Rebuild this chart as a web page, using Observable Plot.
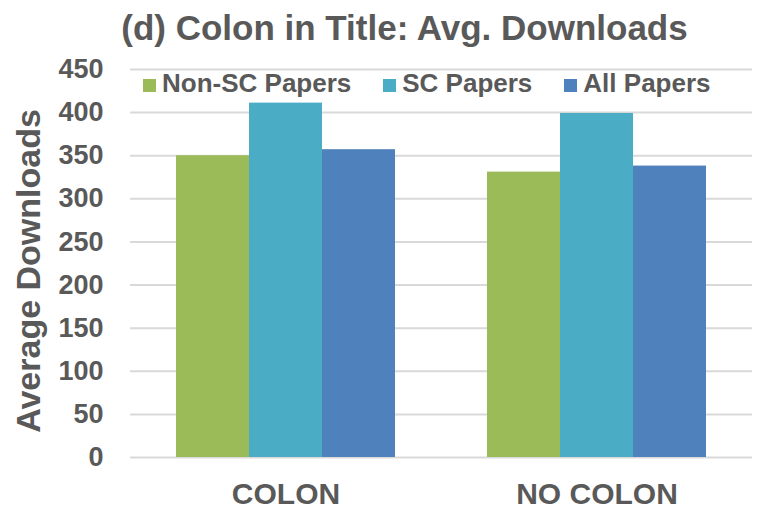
<!DOCTYPE html>
<html>
<head>
<meta charset="utf-8">
<script src="https://cdn.jsdelivr.net/npm/d3@7"></script>
<script src="https://cdn.jsdelivr.net/npm/@observablehq/plot@0.6"></script>
<style>
  html, body { margin: 0; padding: 0; background: #fff; }
  #wrap { position: relative; width: 765px; height: 518px; overflow: hidden;
          font-family: "Liberation Sans", Arial, sans-serif; font-weight: bold; color: #595959; }
  #title { position: absolute; left: 22px; width: 765px; top: 10px; text-align: center;
           font-size: 35px; line-height: 35px; white-space: nowrap; }
  #ylabel { position: absolute; left: 28px; top: 271px; font-size: 34px; line-height: 34px;
            white-space: nowrap; transform: translate(-50%, -50%) rotate(-90deg); }
  #legend { position: absolute; left: 143px; top: 70px; display: flex; align-items: center;
            font-size: 26px; line-height: 26px; white-space: nowrap; }
  .item { display: flex; align-items: center; margin-right: 32px; }
  .sw { width: 13px; height: 13px; margin-right: 6px; position: relative; top: 2px; }
  #chart { position: absolute; left: 0; top: 50px; }
</style>
</head>
<body>
<div id="wrap">
  <div id="chart"></div>
  <div id="title"></div>
  <div id="ylabel"></div>
  <div id="legend"></div>
</div>
<script>
const titleText = "(d) Colon in Title: Avg. Downloads";
const yLabel = "Average Downloads";
const groups = ["COLON", "NO COLON"];
const series = ["Non-SC Papers", "SC Papers", "All Papers"];
const colonValues = [350, 411, 357];
const noColonValues = [331, 399, 338];
const colors = ["#9BBB59", "#4BACC6", "#4F81BD"];
const yTicks = [0, 50, 100, 150, 200, 250, 300, 350, 400, 450];

const valuesByGroup = [colonValues, noColonValues];
const data = [];
groups.forEach((g, gi) => series.forEach((s, si) => data.push({group: g, series: s, value: valuesByGroup[gi][si]})));

const chart = Plot.plot({
  width: 765,
  height: 468,
  marginTop: 19,
  marginBottom: 61,
  marginLeft: 130,
  marginRight: 13,
  style: {fontFamily: "'Liberation Sans', Arial, sans-serif", fontWeight: "bold", color: "#595959", background: "transparent"},
  fx: {domain: groups, padding: 0, label: null},
  x: {domain: series, paddingInner: 0, paddingOuter: 0.611, axis: null},
  y: {domain: [0, 450], label: null},
  color: {domain: series, range: colors},
  marks: [
    Plot.gridY(yTicks, {stroke: "#d9d9d9", strokeOpacity: 1, strokeWidth: 2}),
    Plot.barY(data, {fx: "group", x: "series", y: "value", fill: "series"}),
    Plot.axisY(yTicks, {tickSize: 0, tickPadding: 27, fontSize: 27, fontWeight: "bold", fill: "#595959", label: null}),
    Plot.axisFx({anchor: "bottom", tickSize: 0, tickPadding: 25, fontSize: 30, fontWeight: "bold", fill: "#595959", label: null})
  ]
});
document.getElementById("chart").appendChild(chart);
document.getElementById("title").textContent = titleText;
document.getElementById("ylabel").textContent = yLabel;
const legend = document.getElementById("legend");
series.forEach((s, i) => {
  const it = document.createElement("div");
  it.className = "item";
  const sw = document.createElement("span");
  sw.className = "sw";
  sw.style.background = colors[i];
  const tx = document.createElement("span");
  tx.textContent = s;
  it.appendChild(sw); it.appendChild(tx);
  legend.appendChild(it);
});
</script>
</body>
</html>
